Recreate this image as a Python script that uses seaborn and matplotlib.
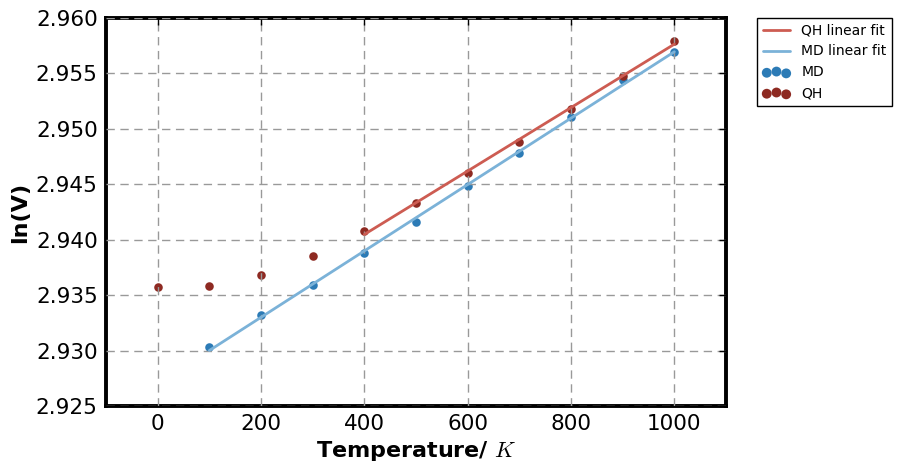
import numpy as np
import pandas as pd
import matplotlib
matplotlib.use("Agg")
import matplotlib.pyplot as plt
import seaborn as sns

# Temperatures (K)
temp_md = [100, 200, 300, 400, 500, 600, 700, 800, 900, 1000]
temp_qh = [0, 100, 200, 300, 400, 500, 600, 700, 800, 900, 1000]

# ln(V) values
lnv_md = [2.9303, 2.9332, 2.9359, 2.9388, 2.9416, 2.9448, 2.9478, 2.9511, 2.9544, 2.9569]
lnv_qh = [2.9357, 2.9358, 2.9368, 2.9385, 2.9408, 2.9433, 2.9460, 2.9488, 2.9518, 2.9548, 2.9579]

# Fit ranges
qh_fit_from = 400
md_fit_from = 100

sns.set_style("white")
plt.rcParams["font.family"] = ["DejaVu Sans"]
plt.rcParams["mathtext.fontset"] = "cm"
plt.rcParams["text.color"] = "black"
plt.rcParams["axes.labelcolor"] = "black"
plt.rcParams["xtick.color"] = "black"
plt.rcParams["ytick.color"] = "black"

md = pd.DataFrame({"T": temp_md, "lnV": lnv_md})
qh = pd.DataFrame({"T": temp_qh, "lnV": lnv_qh})

# Linear fits
qh_sub = qh[qh["T"] >= qh_fit_from]
md_sub = md[md["T"] >= md_fit_from]
qh_coef = np.polyfit(qh_sub["T"], qh_sub["lnV"], 1)
md_coef = np.polyfit(md_sub["T"], md_sub["lnV"], 1)
qh_fit = pd.DataFrame({"T": qh_sub["T"], "lnV": np.polyval(qh_coef, qh_sub["T"])})
md_fit = pd.DataFrame({"T": md_sub["T"], "lnV": np.polyval(md_coef, md_sub["T"])})

fig = plt.figure(figsize=(9.02, 4.73), dpi=100)
ax = fig.add_axes([0.1175, 0.1416, 0.6874, 0.8204])

ax.grid(True, color="#999999", linestyle=(0, (6, 4)), linewidth=1.0)
ax.set_axisbelow(False)

sns.lineplot(data=qh_fit, x="T", y="lnV", ax=ax, color="#cd5c52", linewidth=2.0,
             label="QH linear fit", zorder=3)
sns.lineplot(data=md_fit, x="T", y="lnV", ax=ax, color="#7bb2d8", linewidth=2.0,
             label="MD linear fit", zorder=3)
sns.scatterplot(data=md, x="T", y="lnV", ax=ax, color="#2c7bb6", s=38,
                linewidth=0, label="MD", zorder=1)
sns.scatterplot(data=qh, x="T", y="lnV", ax=ax, color="#8e2a22", s=38,
                linewidth=0, label="QH", zorder=1)

ax.set_xlim(-100, 1100)
ax.set_ylim(2.925, 2.960)
ax.set_xticks([0, 200, 400, 600, 800, 1000])
ax.set_yticks(np.arange(2.925, 2.9601, 0.005))
ax.yaxis.set_major_formatter(matplotlib.ticker.FormatStrFormatter("%.3f"))
ax.tick_params(direction="in", labelsize=15.5, length=5, width=1, pad=6,
               top=True, right=True)

for s in ax.spines.values():
    s.set_linewidth(2.8)
    s.set_color("black")

ax.set_xlabel("Temperature/ $K$", fontsize=16, fontweight="bold", labelpad=3)
ax.set_ylabel("ln(V)", fontsize=16, fontweight="bold", labelpad=4)

leg = ax.legend(loc="upper left", bbox_to_anchor=(1.05, 1.0), borderaxespad=0,
                scatterpoints=3, fontsize=10, fancybox=False, frameon=True,
                edgecolor="black", framealpha=1, markerscale=1.15)
leg.get_frame().set_linewidth(1.0)

fig.savefig("out.png", dpi=100)
